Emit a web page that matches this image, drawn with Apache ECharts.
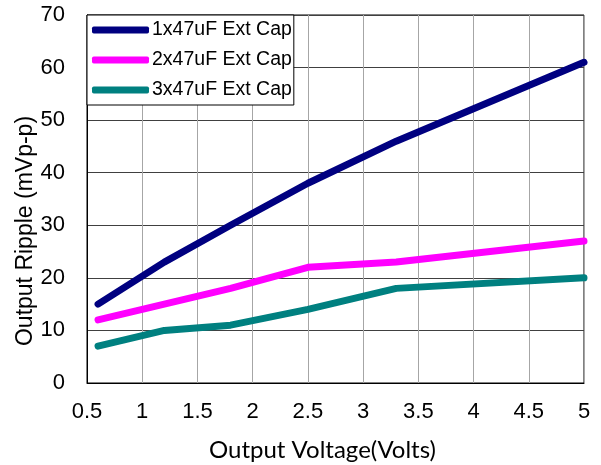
<!DOCTYPE html>
<html><head><meta charset="utf-8">
<script src="https://cdn.jsdelivr.net/npm/echarts@6/dist/echarts.min.js"></script>
<style>html,body{margin:0;padding:0;background:#fff}#c{width:601px;height:465px}</style>
</head><body><div id="c"></div>
<script>
const voltage = [0.6, 1.2, 1.8, 2.5, 3.3, 5];
const cap1 = [15, 23, 30, 38, 46, 61];
const cap2 = [12, 15, 18, 22, 23, 27];
const cap3 = [7, 10, 11, 14, 18, 20];
const seriesNames = ['1x47uF Ext Cap', '2x47uF Ext Cap', '3x47uF Ext Cap'];
const colors = ['#000080', '#ff00ff', '#008080'];
const xTitle = 'Output Voltage(Volts)';
const yTitle = 'Output Ripple (mVp-p)';

const pairs = arr => voltage.map((v, i) => [v, arr[i]]);
const chart = echarts.init(document.getElementById('c'));
chart.setOption({
  animation: false,
  backgroundColor: '#fff',
  grid: { left: 87, right: 17, top: 15, bottom: 82, show: true, borderColor: '#000', borderWidth: 1, backgroundColor: 'transparent', outerBoundsMode: 'none', containLabel: false },
  legend: {
    orient: 'vertical', left: 87, top: 15,
    backgroundColor: '#fff', borderColor: '#000', borderWidth: 1,
    padding: [5, 2, 5, 5], itemGap: 10,
    itemWidth: 57, itemHeight: 7, icon: 'roundRect',
    textStyle: { fontFamily: 'Liberation Sans', fontSize: 19.5, color: '#000', padding: [0, 0, 0, -2] },
    data: seriesNames
  },
  xAxis: {
    type: 'value', min: 0.5, max: 5, interval: 0.5,
    name: xTitle, nameLocation: 'middle', nameGap: 55, nameMoveOverlap: false,
    nameTextStyle: { fontFamily: 'Lato', fontSize: 24, color: '#000', padding: [0, 26, 0, 0] },
    axisLine: { show: true, lineStyle: { color: '#000', width: 1 } },
    axisTick: { show: false },
    axisLabel: { fontFamily: 'Liberation Sans', fontSize: 22, color: '#000', margin: 18 },
    splitLine: { show: true, lineStyle: { color: '#a6a6a6', width: 1 } }
  },
  yAxis: {
    type: 'value', min: 0, max: 70, interval: 10,
    name: yTitle, nameLocation: 'middle', nameGap: 50, nameMoveOverlap: false,
    nameTextStyle: { fontFamily: 'Liberation Sans', fontSize: 23, color: '#000', padding: [0, 64, 0, 0] },
    axisLine: { show: true, lineStyle: { color: '#000', width: 1 } },
    axisTick: { show: false },
    axisLabel: { fontFamily: 'Liberation Sans', fontSize: 22, color: '#000', margin: 22 },
    splitLine: { show: true, lineStyle: { color: '#404040', width: 1 } }
  },
  series: [cap1, cap2, cap3].map((arr, i) => ({
    name: seriesNames[i], type: 'line', data: pairs(arr),
    showSymbol: false, symbol: 'none',
    color: colors[i],
    lineStyle: { color: colors[i], width: 7, cap: 'round', join: 'round' },
    z: 3 - i
  }))
});
</script></body></html>
